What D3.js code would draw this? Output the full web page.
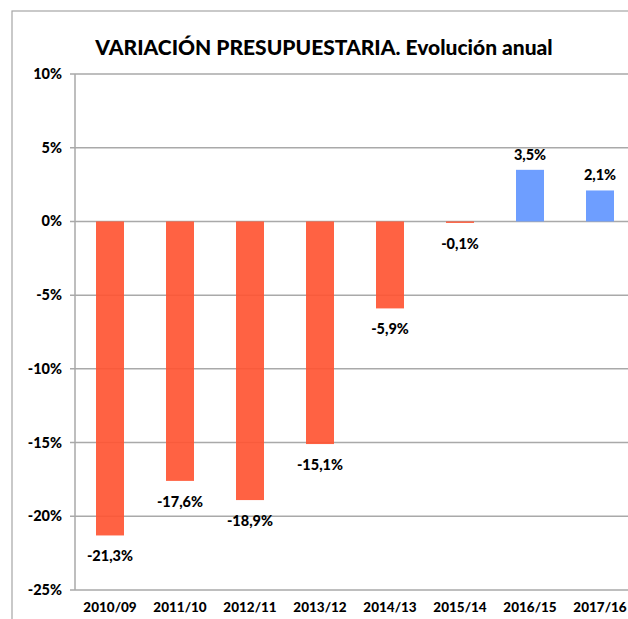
<!DOCTYPE html>
<html><head><meta charset="utf-8">
<script src="https://cdn.jsdelivr.net/npm/d3@7"></script>
<style>body{margin:0;background:#fff}svg{display:block}</style>
</head><body>
<script>
const categories = ["2010/09","2011/10","2012/11","2013/12","2014/13","2015/14","2016/15","2017/16"];
const values = [-21.3,-17.6,-18.9,-15.1,-5.9,-0.1,3.5,2.1];
const valueLabels = ["-21,3%","-17,6%","-18,9%","-15,1%","-5,9%","-0,1%","3,5%","2,1%"];
const yTicks = [10,5,0,-5,-10,-15,-20,-25];
const title = "VARIACIÓN PRESUPUESTARIA. Evolución anual";

const W = 628, H = 619;
const svg = d3.select("body").append("svg").attr("width", W).attr("height", H);
const font = "Lato, 'Open Sans', sans-serif";

// outer frame
svg.append("rect").attr("x", 12).attr("y", 11).attr("width", 640).attr("height", 640)
  .attr("fill", "none").attr("stroke", "#a6a6a6").attr("stroke-width", 1.2);

const x = d3.scaleBand().domain(categories).range([75, 635]).paddingInner(0.6).paddingOuter(0.3);
const y = d3.scaleLinear().domain([-25, 10]).range([590, 74]);

// gridlines
svg.append("g").selectAll("line").data(yTicks).join("line")
  .attr("x1", 70).attr("x2", 640)
  .attr("y1", d => y(d)).attr("y2", d => y(d))
  .attr("stroke", "#a9a9a9").attr("stroke-width", 1.5);

// axis line
svg.append("line").attr("x1", 75).attr("x2", 75).attr("y1", y(10)).attr("y2", y(-25))
  .attr("stroke", "#a9a9a9").attr("stroke-width", 1.5);

// y tick labels
svg.append("g").selectAll("text").data(yTicks).join("text")
  .attr("x", 62).attr("y", d => y(d) + 5)
  .attr("text-anchor", "end").attr("font-family", font).attr("font-weight", 900)
  .attr("font-size", 14.5).attr("fill", "#000")
  .text(d => d + "%");

// bars
svg.append("g").selectAll("rect").data(values).join("rect")
  .attr("x", (d, i) => x(categories[i]))
  .attr("width", x.bandwidth())
  .attr("y", d => y(Math.max(0, d)))
  .attr("height", d => Math.max(1.5, Math.abs(y(d) - y(0))))
  .attr("fill", d => d < 0 ? "#ff5533" : "#6e9eff")
  .attr("fill-opacity", d => d < 0 ? 0.92 : 1);

// value labels
svg.append("g").selectAll("text").data(values).join("text")
  .attr("x", (d, i) => x(categories[i]) + x.bandwidth() / 2)
  .attr("y", d => d < 0 ? y(d) + 26 : y(d) - 10)
  .attr("text-anchor", "middle").attr("font-family", font).attr("font-weight", 900)
  .attr("font-size", 14.5).attr("fill", "#000")
  .text((d, i) => valueLabels[i]);

// x labels
svg.append("g").selectAll("text").data(categories).join("text")
  .attr("x", d => x(d) + x.bandwidth() / 2)
  .attr("y", 612)
  .attr("text-anchor", "middle").attr("font-family", font).attr("font-weight", 900)
  .attr("font-size", 13.5).attr("fill", "#000")
  .text(d => d);

// title
svg.append("text").attr("x", 324).attr("y", 55)
  .attr("text-anchor", "middle").attr("font-family", font).attr("font-weight", 900)
  .attr("font-size", 21).attr("fill", "#000")
  .text(title);
</script>
</body></html>
